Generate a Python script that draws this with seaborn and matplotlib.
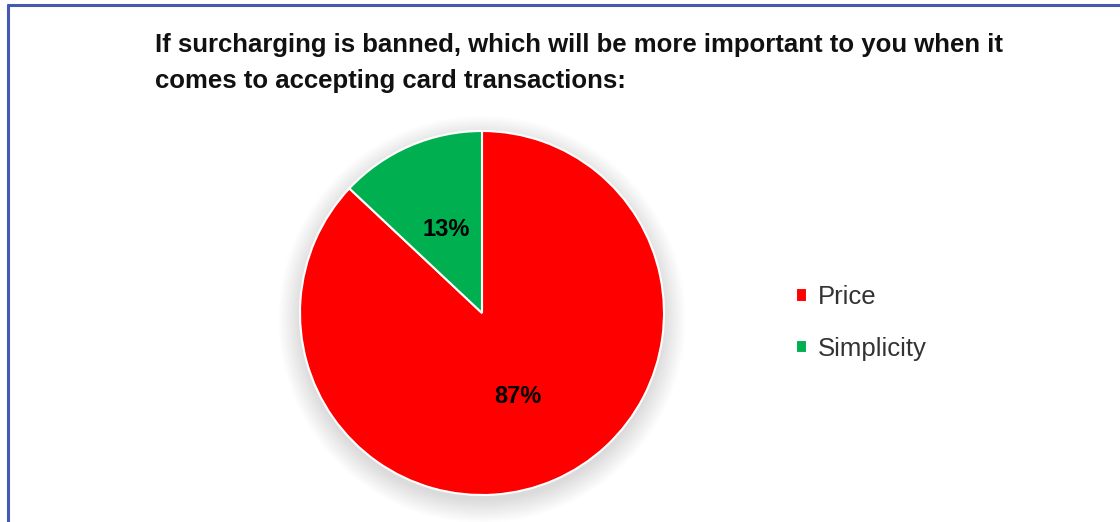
import matplotlib
matplotlib.use("Agg")
import matplotlib.pyplot as plt
from matplotlib.lines import Line2D
from matplotlib.patches import Circle
import seaborn as sns

# Survey answers
categories = ["Price", "Simplicity"]
shares = [87, 13]
colors = ["#FF0000", "#00B050"]
title = ("If surcharging is banned, which will be more important to you when it\n"
         "comes to accepting card transactions:")

sns.set_theme(style="white")
plt.rcParams["font.family"] = ["Liberation Sans", "DejaVu Sans"]

W, H = 1120, 522
fig = plt.figure(figsize=(W / 100, H / 100), dpi=100)
fig.patch.set_facecolor("white")

# pie axes: centre (482, 313) px, radius 182 px
cx, cy, r = 482, 313, 182
ax = fig.add_axes([(cx - r) / W, (H - cy - r) / H, 2 * r / W, 2 * r / H])

# soft drop shadow under the pie
n_rings = 36
for k in range(n_rings):
    rad = 0.99 + 0.13 * (k + 1) / n_rings
    ax.add_patch(Circle((0, -0.035), rad, color="#000000", alpha=0.0048,
                        zorder=0, clip_on=False, linewidth=0))

wedges, texts, autotexts = ax.pie(
    shares, colors=colors, startangle=90, counterclock=False,
    autopct="%1.0f%%", pctdistance=0.5,
    wedgeprops=dict(edgecolor="white", linewidth=1.5),
    textprops=dict(fontsize=17, fontweight="bold", color="black"),
)
for w in wedges:
    w.set_zorder(2)
for t in autotexts:
    t.set_zorder(3)
ax.set_xlim(-1, 1)
ax.set_ylim(-1, 1)
ax.set_aspect("equal")
ax.axis("off")

fig.legend(wedges, categories, loc="center left",
           bbox_to_anchor=(783 / W, 1 - 323 / H), frameon=False,
           fontsize=18.5, handlelength=0.42, handleheight=0.42,
           handletextpad=0.45, labelspacing=1.08, borderpad=0,
           labelcolor="#333333")

fig.text(155 / W, 1 - 33 / H, title, ha="left", va="top",
         fontsize=18.5, fontweight="bold", color="#111111", linespacing=1.62)

# frame lines along the top and left edges
border = "#4558B2"
fig.add_artist(Line2D([8 / W, 1], [1 - 5 / H, 1 - 5 / H], color=border,
                      linewidth=2.2, transform=fig.transFigure))
fig.add_artist(Line2D([8 / W, 8 / W], [0, 1 - 5 / H], color=border,
                      linewidth=2.2, transform=fig.transFigure))

fig.savefig("out.png", dpi=100)
